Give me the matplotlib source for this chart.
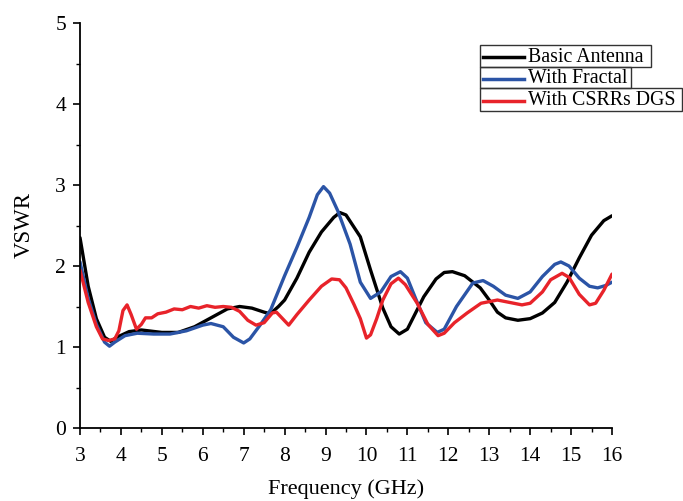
import matplotlib
matplotlib.use('Agg')
import matplotlib.pyplot as plt
from matplotlib.lines import Line2D
from matplotlib.patches import Rectangle
from matplotlib.ticker import MultipleLocator

plt.rcParams['font.family'] = 'Liberation Serif'

# Basic Antenna
f_basic = [3.0, 3.2, 3.4, 3.6, 3.75, 3.9, 4.2, 4.5, 5.0, 5.4, 5.8, 6.2, 6.6, 6.9, 7.2,
           7.5, 7.65, 7.85, 8.0, 8.3, 8.6, 8.9, 9.2, 9.35, 9.5, 9.85, 10.1, 10.4, 10.6,
           10.8, 11.0, 11.4, 11.7, 11.9, 12.1, 12.4, 12.78, 13.0, 13.2, 13.4, 13.7, 14.0,
           14.3, 14.6, 14.9, 15.2, 15.5, 15.8, 16.0]
v_basic = [2.35, 1.75, 1.35, 1.12, 1.07, 1.12, 1.19, 1.21, 1.18, 1.18, 1.25, 1.36, 1.47, 1.5, 1.48,
           1.43, 1.41, 1.5, 1.58, 1.85, 2.17, 2.42, 2.6, 2.66, 2.63, 2.36, 1.95, 1.48, 1.25,
           1.16, 1.22, 1.62, 1.84, 1.92, 1.93, 1.88, 1.73, 1.58, 1.43, 1.36, 1.33, 1.35,
           1.42, 1.55, 1.8, 2.1, 2.38, 2.56, 2.62]

# With Fractal
f_fractal = [3.0, 3.2, 3.4, 3.6, 3.72, 3.85, 4.1, 4.4, 4.8, 5.2, 5.6, 6.0, 6.2, 6.5, 6.75,
             7.0, 7.15, 7.4, 7.66, 8.0, 8.3, 8.6, 8.8, 8.95, 9.1, 9.3, 9.6, 9.85, 10.1,
             10.35, 10.6, 10.83, 11.0, 11.2, 11.45, 11.73, 11.9, 12.2, 12.6, 12.85, 13.1,
             13.4, 13.7, 14.0, 14.3, 14.6, 14.75, 14.95, 15.2, 15.45, 15.65, 15.85, 16.0]
v_fractal = [2.05, 1.6, 1.28, 1.06, 1.01, 1.06, 1.14, 1.17, 1.16, 1.16, 1.2, 1.27, 1.29, 1.25, 1.12,
             1.05, 1.1, 1.27, 1.46, 1.88, 2.23, 2.6, 2.88, 2.98, 2.9, 2.68, 2.27, 1.8, 1.6,
             1.68, 1.87, 1.93, 1.85, 1.6, 1.3, 1.18, 1.22, 1.5, 1.79, 1.82, 1.75,
             1.64, 1.6, 1.68, 1.87, 2.02, 2.05, 2.0, 1.85, 1.75, 1.73, 1.76, 1.8]

# With CSRRs DGS
f_csrr = [3.0, 3.2, 3.4, 3.55, 3.7, 3.85, 3.95, 4.05, 4.15, 4.25, 4.38, 4.5, 4.6, 4.75,
          4.9, 5.1, 5.3, 5.5, 5.7, 5.9, 6.1, 6.3, 6.5, 6.7, 6.9, 7.1, 7.3, 7.5, 7.7,
          7.8, 7.95, 8.1, 8.3, 8.6, 8.9, 9.15, 9.34, 9.5, 9.7, 9.85, 10.0, 10.1, 10.25,
          10.4, 10.6, 10.78, 10.95, 11.24, 11.5, 11.75, 11.9, 12.15, 12.46, 12.8, 13.2,
          13.5, 13.8, 14.0, 14.3, 14.5, 14.78, 14.95, 15.2, 15.45, 15.6, 15.8, 16.0]
v_csrr = [1.95, 1.55, 1.25, 1.1, 1.08, 1.1, 1.2, 1.45, 1.52, 1.4, 1.22, 1.28, 1.36, 1.36,
          1.41, 1.43, 1.47, 1.46, 1.5, 1.48, 1.51, 1.49, 1.5, 1.49, 1.44, 1.33, 1.27, 1.3, 1.42,
          1.43, 1.35, 1.27, 1.4, 1.58, 1.75, 1.84, 1.83, 1.73, 1.52, 1.35, 1.11, 1.15, 1.35,
          1.58, 1.78, 1.85, 1.77, 1.54, 1.28, 1.14, 1.17, 1.3, 1.42, 1.54, 1.58,
          1.55, 1.52, 1.54, 1.68, 1.83, 1.91, 1.86, 1.65, 1.52, 1.54, 1.7, 1.9]

series = [
    ('Basic Antenna', f_basic, v_basic, '#000000'),
    ('With Fractal', f_fractal, v_fractal, '#2b54a6'),
    ('With CSRRs DGS', f_csrr, v_csrr, '#e8232a'),
]

W, H = 683, 501
fig = plt.figure(figsize=(W / 100, H / 100), dpi=100)
ax = fig.add_axes([80 / W, 1 - 428 / H, 532 / W, 405 / H])

for name, f, v, c in series:
    ax.plot(f, v, color=c, lw=2.4, solid_capstyle='round', solid_joinstyle='round')

ax.set_xlim(3, 16)
ax.set_ylim(0, 5)
ax.xaxis.set_major_locator(MultipleLocator(1))
ax.xaxis.set_minor_locator(MultipleLocator(0.5))
ax.yaxis.set_major_locator(MultipleLocator(1))
ax.yaxis.set_minor_locator(MultipleLocator(0.5))
ax.spines['top'].set_visible(False)
ax.spines['right'].set_visible(False)
for s in ['left', 'bottom']:
    ax.spines[s].set_linewidth(1.3)
ax.tick_params(which='major', direction='out', length=5, width=1.2, labelsize=15.5)
ax.tick_params(axis='x', which='major', pad=9)
ax.tick_params(axis='y', which='major', pad=5)
ax.tick_params(which='minor', direction='out', length=3, width=1.0)
ax.set_xlabel('Frequency (GHz)', fontsize=16, labelpad=9)
ax.set_ylabel('VSWR', fontsize=16.5, labelpad=15)


# legend drawn as a boxed table, one box per row
def fx(px):
    return px / W


def fy(py):
    return 1 - py / H


rows = [(45, 67, 651), (67, 88, 631), (88, 111, 682)]
for (name, f, v, c), (top, bot, right) in zip(series, rows):
    fig.add_artist(Rectangle((fx(480), fy(bot)), fx(right) - fx(480), fy(top) - fy(bot),
                             transform=fig.transFigure, fill=False, edgecolor='#333333', lw=1.0))
    yc = fy((top + bot) / 2 + 1)
    fig.add_artist(Line2D([fx(483), fx(524)], [yc, yc], transform=fig.transFigure,
                          color=c, lw=2.5))
    fig.text(fx(528), yc, name, fontsize=14.3, va='center', ha='left')

fig.savefig('out.png', dpi=100)
